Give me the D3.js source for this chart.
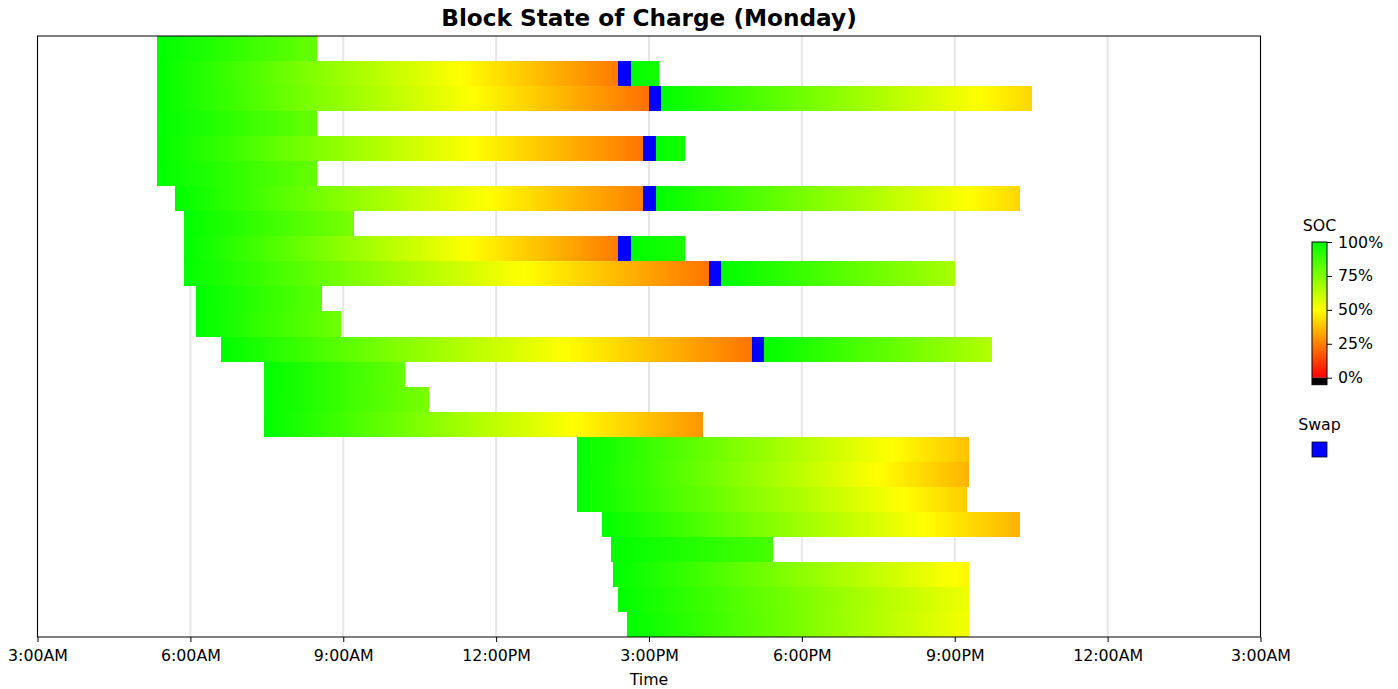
<!DOCTYPE html>
<html>
<head>
<meta charset="utf-8">
<script src="https://cdn.jsdelivr.net/npm/d3@7"></script>
<style>
  body { margin: 0; background: #fff; overflow: hidden; }
  svg { display: block; font-family: "DejaVu Sans", sans-serif; }
  .tick text { font-family: "DejaVu Sans", sans-serif; font-size: 15.8px; fill: #000; }
  .axis-label { font-family: "DejaVu Sans", sans-serif; font-size: 15.8px; fill: #000; }
  .leg, .swap { shape-rendering: crispEdges; }
</style>
</head>
<body>
<div class="svg-wrapper"></div>
<script>
// rows of the chart, top to bottom (one block per row)
const blocks = [0, 1, 2, 3, 4, 5, 6, 7, 8, 9, 10, 11, 12, 13, 14, 15, 16, 17, 18, 19, 20, 21, 22, 23];

// driving legs: [block, start hour, end hour, soc at start, soc at end]
const legs = [
  [0, 5.35, 8.48, 100, 80],
  [1, 5.35, 14.40, 100, 24],
  [1, 14.64, 15.19, 100, 96],
  [2, 5.35, 15.00, 100, 22],
  [2, 15.24, 22.51, 100, 42],
  [3, 5.35, 8.48, 100, 80],
  [4, 5.35, 14.88, 100, 23],
  [4, 15.13, 15.71, 100, 96],
  [5, 5.35, 8.48, 100, 80],
  [6, 5.70, 14.89, 100, 25],
  [6, 15.13, 22.28, 100, 42],
  [7, 5.87, 9.21, 100, 76],
  [8, 5.87, 14.40, 100, 24],
  [8, 14.64, 15.70, 100, 95],
  [9, 5.87, 16.17, 100, 23],
  [9, 16.41, 21.00, 100, 67],
  [10, 6.12, 8.58, 100, 82],
  [11, 6.12, 8.95, 100, 78],
  [12, 6.61, 17.02, 100, 23],
  [12, 17.25, 21.74, 100, 65],
  [13, 7.44, 10.21, 100, 80],
  [14, 7.44, 10.68, 100, 76],
  [15, 7.45, 16.06, 100, 29],
  [16, 13.58, 21.27, 100, 38],
  [17, 13.58, 21.27, 100, 35],
  [18, 13.58, 21.25, 100, 40],
  [19, 14.08, 22.28, 100, 35],
  [20, 14.26, 17.44, 100, 86],
  [21, 14.29, 21.27, 100, 48],
  [22, 14.40, 21.27, 100, 53],
  [23, 14.57, 21.27, 100, 52]
];

// battery swaps: [block, start hour, end hour]
const swaps = [
  [1, 14.40, 14.64],
  [2, 15.00, 15.24],
  [4, 14.88, 15.13],
  [6, 14.89, 15.13],
  [8, 14.40, 14.64],
  [9, 16.17, 16.41],
  [12, 17.02, 17.25]
];

const timeTicks = [3, 6, 9, 12, 15, 18, 21, 24, 27];
const timeLabels = ["3:00AM", "6:00AM", "9:00AM", "12:00PM", "3:00PM", "6:00PM", "9:00PM", "12:00AM", "3:00AM"];
const socTicks = [0, 25, 50, 75, 100];

const width = 1398, height = 689;
const margin = {top: 36, right: 137.5, bottom: 52, left: 37.5};
const innerWidth = width - margin.left - margin.right;
const innerHeight = height - margin.top - margin.bottom;

const svg = d3.select(".svg-wrapper")
  .append("svg")
  .attr("width", width)
  .attr("height", height)
  .attr("viewBox", `0 0 ${width} ${height}`);

const color = d3.scaleLinear()
  .domain([0, 50, 100])
  .range(["#ff0000", "#ffff00", "#00ff00"]);

const xScale = d3.scaleLinear().domain([3, 27]).range([0, innerWidth]);
const yScale = d3.scaleBand().domain(blocks).range([0, innerHeight]);

const defs = svg.append("defs");

// one horizontal gradient per leg, soc changes linearly along the leg
legs.forEach(function(d, i){
  const grad = defs.append("linearGradient")
    .attr("id", "soc-" + i)
    .attr("x1", 0).attr("x2", 1).attr("y1", 0).attr("y2", 0);
  const stops = [[0, d[3]]];
  if((d[3] - 50) * (d[4] - 50) < 0){
    stops.push([(d[3] - 50) / (d[3] - d[4]), 50]);
  }
  stops.push([1, d[4]]);
  stops.forEach(function(s){
    grad.append("stop").attr("offset", s[0]).attr("stop-color", color(s[1]));
  });
});

svg.append("text")
  .attr("x", margin.left + innerWidth / 2)
  .attr("y", 26)
  .attr("text-anchor", "middle")
  .style("font-size", "23.2px")
  .style("font-weight", "bold")
  .text("Block State of Charge (Monday)");

const g = svg.append("g")
  .attr("transform", `translate(${margin.left},${margin.top})`);

// grid
g.selectAll(".grid")
  .data(timeTicks)
  .enter()
  .append("line")
    .attr("class", "grid")
    .attr("x1", d => xScale(d))
    .attr("x2", d => xScale(d))
    .attr("y1", 0)
    .attr("y2", innerHeight)
    .attr("stroke", "#e6e6e6")
    .attr("stroke-width", 2);

g.selectAll(".leg")
  .data(legs)
  .enter()
  .append("rect")
    .attr("class", "leg")
    .attr("x", d => xScale(d[1]))
    .attr("width", d => xScale(d[2]) - xScale(d[1]))
    .attr("y", d => yScale(d[0]))
    .attr("height", yScale.bandwidth())
    .attr("fill", (d, i) => "url(#soc-" + i + ")");

g.selectAll(".swap")
  .data(swaps)
  .enter()
  .append("rect")
    .attr("class", "swap")
    .attr("x", d => xScale(d[1]))
    .attr("width", d => xScale(d[2]) - xScale(d[1]))
    .attr("y", d => yScale(d[0]))
    .attr("height", yScale.bandwidth())
    .attr("fill", "#0000ff");

g.append("rect")
  .attr("width", innerWidth)
  .attr("height", innerHeight)
  .attr("fill", "none")
  .attr("stroke", "#000")
  .attr("stroke-width", 1);

const xAxis = d3.axisBottom(xScale)
  .tickValues(timeTicks)
  .tickFormat((d, i) => timeLabels[i])
  .tickSize(5)
  .tickPadding(6);

const xAxisG = g.append("g")
  .attr("transform", `translate(0,${innerHeight})`)
  .call(xAxis)
  .attr("font-family", null)
  .attr("font-size", null);
xAxisG.select(".domain").remove();
xAxisG.selectAll(".tick line").attr("stroke", "#000");
xAxisG.selectAll(".tick text").attr("dy", null).attr("y", 24);

xAxisG.append("text")
  .attr("class", "axis-label")
  .attr("x", innerWidth / 2)
  .attr("y", 48)
  .attr("text-anchor", "middle")
  .text("Time");

// colorbar
const cb = {x: 1312, w: 15, top: 242, bottom: 377.7, ext: 7};
const cbScale = d3.scaleLinear().domain([0, 100]).range([cb.bottom, cb.top]);

const cbGrad = defs.append("linearGradient")
  .attr("id", "soc-bar")
  .attr("x1", 0).attr("x2", 0).attr("y1", 1).attr("y2", 0);
socTicks.forEach(function(s){
  cbGrad.append("stop").attr("offset", s / 100).attr("stop-color", color(s));
});

svg.append("rect")
  .attr("x", cb.x)
  .attr("y", cbScale(100))
  .attr("width", cb.w)
  .attr("height", cbScale(0) - cbScale(100))
  .attr("fill", "url(#soc-bar)");

svg.append("rect")
  .attr("x", cb.x)
  .attr("y", cbScale(0))
  .attr("width", cb.w)
  .attr("height", cb.ext)
  .attr("fill", "#000");

svg.append("rect")
  .attr("x", cb.x)
  .attr("y", cbScale(100))
  .attr("width", cb.w)
  .attr("height", cbScale(0) - cbScale(100) + cb.ext)
  .attr("fill", "none")
  .attr("stroke", "#000")
  .attr("stroke-width", 1);

const cbAxisG = svg.append("g")
  .attr("transform", `translate(${cb.x + cb.w},0)`)
  .call(d3.axisRight(cbScale).tickValues(socTicks).tickFormat(d => d + "%").tickSize(5).tickPadding(6))
  .attr("font-family", null)
  .attr("font-size", null);
cbAxisG.select(".domain").remove();
cbAxisG.selectAll(".tick line").attr("stroke", "#000");

svg.append("text")
  .attr("class", "axis-label")
  .attr("x", cb.x + cb.w / 2)
  .attr("y", 231)
  .attr("text-anchor", "middle")
  .text("SOC");

svg.append("text")
  .attr("class", "axis-label")
  .attr("x", cb.x + cb.w / 2)
  .attr("y", 430)
  .attr("text-anchor", "middle")
  .text("Swap");

svg.append("rect")
  .attr("x", cb.x)
  .attr("y", 442)
  .attr("width", cb.w)
  .attr("height", cb.w)
  .attr("fill", "#0000ff")
  .attr("stroke", "#000")
  .attr("stroke-width", 0.8);
</script>
</body>
</html>
